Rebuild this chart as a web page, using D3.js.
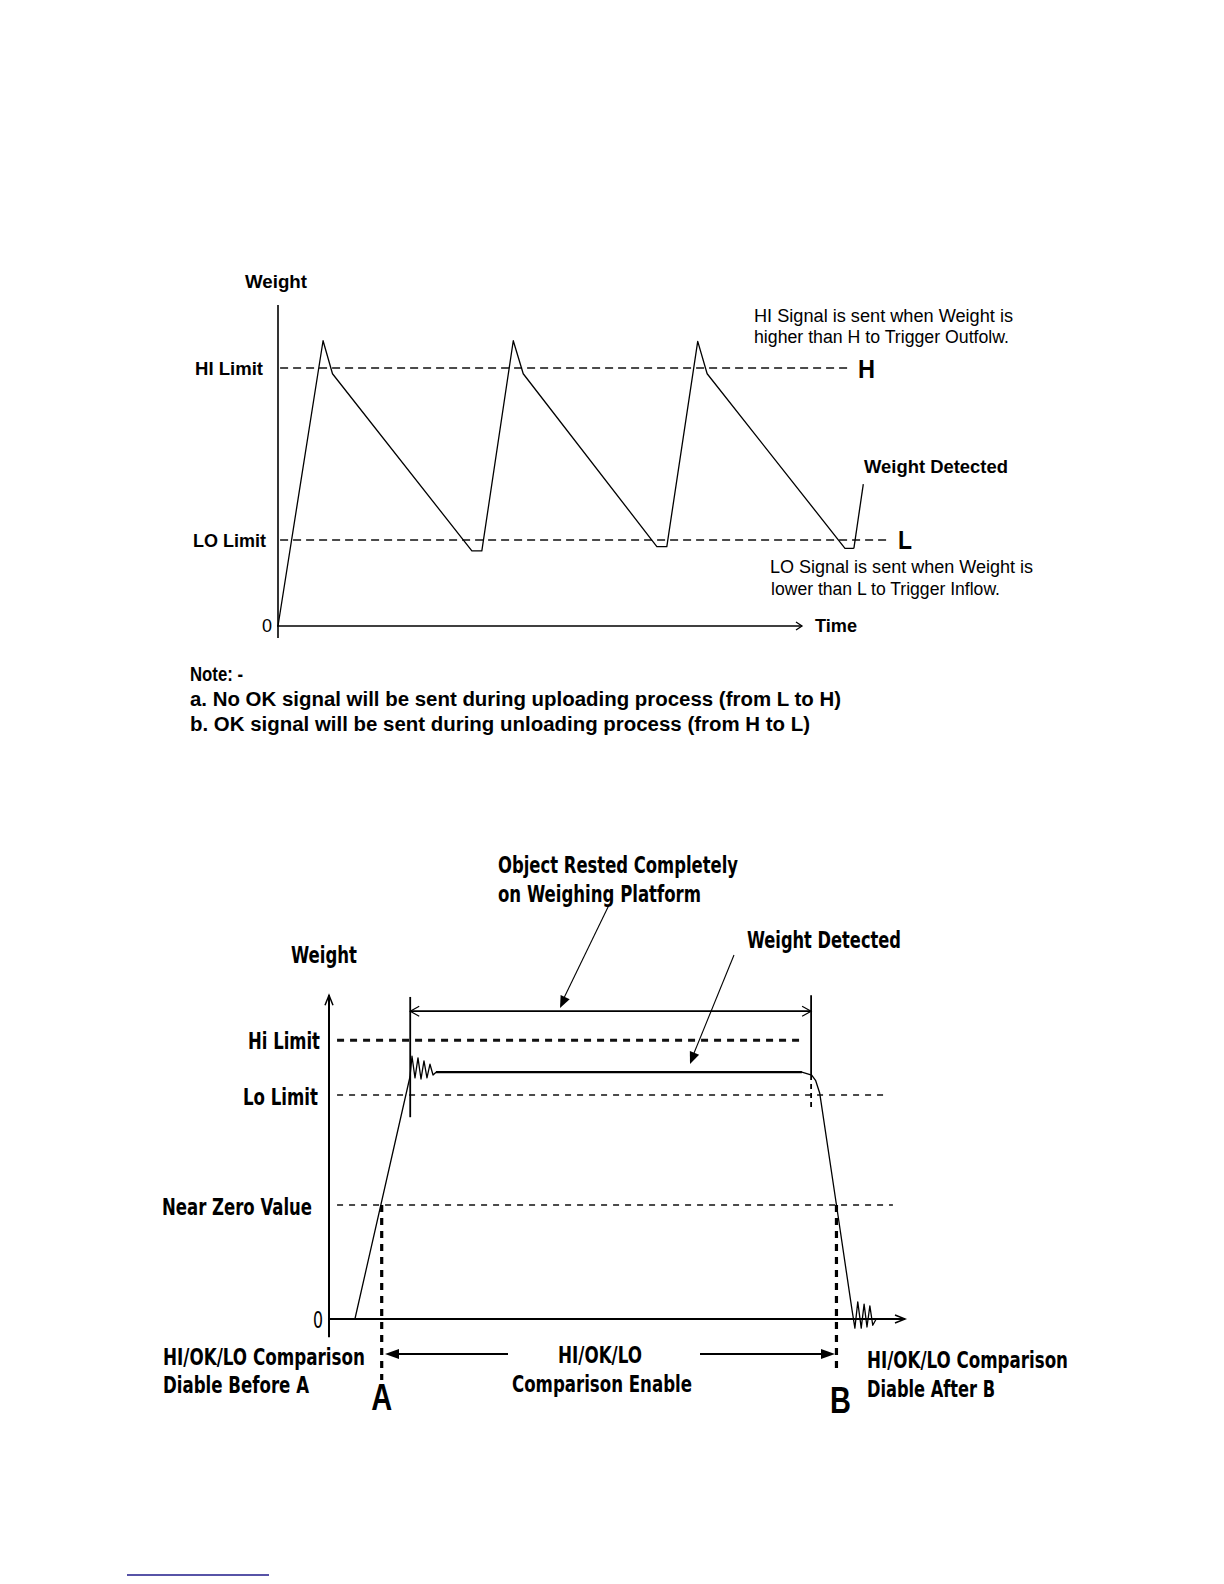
<!DOCTYPE html>
<html><head><meta charset="utf-8">
<script src="https://cdn.jsdelivr.net/npm/d3@7"></script>
<style>body{margin:0;background:#fff} svg{display:block}</style>
</head><body>
<svg id="c" width="1224" height="1584"></svg>
<script>
// ---------- DATA: top chart (hopper fill / discharge cycle) ----------
const topLimitNames  = ["HI Limit", "LO Limit"];
const topLimitValues = [90, 30];
const topLimitTags   = ["H", "L"];
const topTime   = [0, 8.6, 10.4, 37.0, 38.9, 44.9, 46.8, 72.3, 74.2, 80.1, 81.9, 108.2, 109.9];
const topWeight = [0, 99.5, 88, 26.2, 26.2, 99.5, 88, 27.7, 27.7, 99.3, 88, 27.1, 27.1];
const topDetectLeader = [[109.9, 27.1], [111.7, 49.5]];
const topAxisLabels = ["Weight", "Time", "0"];
const topNotes = ["HI Signal is sent when Weight is", "higher than H to Trigger Outfolw.",
                  "LO Signal is sent when Weight is", "lower than L to Trigger Inflow."];
const noteLines = ["Note: -",
  "a. No OK signal will be sent during uploading process (from L to H)",
  "b. OK signal will be sent during unloading process (from H to L)"];

// ---------- DATA: bottom chart (object weighing) ----------
const botLimitNames  = ["Hi Limit", "Lo Limit", "Near Zero Value"];
const botLimitValues = [48.9, 39.3, 20];
const botTime   = [4.5, 14.06, 14.41, 14.93, 15.45, 15.97, 16.49, 17.01, 17.53, 18.06, 18.58,
                   82.1, 83.8, 84.5, 85.2, 88.1, 90.8, 91.3, 91.8, 92.4, 92.9, 93.4, 93.9, 94.4, 95.0];
const botWeight = [0, 42.5, 46.1, 42.3, 45.8, 42.1, 45.3, 42.3, 44.7, 42.8, 43.3,
                   43.3, 42.8, 41.8, 39.6, 20, 1.6, -1.6, 3.0, -1.6, 2.6, -1.4, 2.3, -1.1, 0];
const markerNames = ["A", "B"];
const markerTimes = [9.15, 88.1];
const bracketTimes = [14.1, 83.7];
const bracketWeight = 54;
const botTexts = ["Object Rested Completely", "on Weighing Platform", "Weight Detected", "Weight", "0",
  "HI/OK/LO Comparison", "Diable Before A", "HI/OK/LO", "Comparison Enable",
  "HI/OK/LO Comparison", "Diable After B"];

// ---------- helpers ----------
const svg = d3.select("#c");
const SANS = "'Liberation Sans', Arial, Helvetica, sans-serif";
const NARROW = "'Liberation Sans Narrow', 'Arial Narrow', 'DejaVu Sans Condensed', 'Liberation Sans', sans-serif";
function txt(g, s, x, y, o) {
  const t = g.append("text").attr("x", x).attr("y", y).text(s)
    .attr("font-family", o.family || SANS).attr("font-size", o.size)
    .attr("font-weight", o.weight || "normal").attr("text-anchor", o.anchor || "start")
    .attr("fill", "#000");
  if (o.width) t.attr("textLength", o.width).attr("lengthAdjust", "spacingAndGlyphs");
  return t;
}
function line(g, x1, y1, x2, y2, w, dash, col) {
  const l = g.append("line").attr("x1", x1).attr("y1", y1).attr("x2", x2).attr("y2", y2)
    .attr("stroke", col || "#000").attr("stroke-width", w);
  if (dash) l.attr("stroke-dasharray", dash);
  return l;
}
function head(g, x1, y1, x2, y2, len, half, filled, w) {
  const a = Math.atan2(y2 - y1, x2 - x1);
  const bx = x2 - len * Math.cos(a), by = y2 - len * Math.sin(a);
  const px = -Math.sin(a) * half, py = Math.cos(a) * half;
  if (filled) {
    g.append("path").attr("d", `M${x2},${y2}L${bx + px},${by + py}L${bx - px},${by - py}Z`).attr("fill", "#000");
  } else {
    g.append("path").attr("d", `M${bx + px},${by + py}L${x2},${y2}L${bx - px},${by - py}`)
      .attr("fill", "none").attr("stroke", "#000").attr("stroke-width", w || 1.3);
  }
}

// ================= TOP CHART =================
const gT = svg.append("g");
const xT = d3.scaleLinear().domain([0, 100]).range([278, 802]);
const yT = d3.scaleLinear().domain([0, 90]).range([626, 368]);

// limit lines
const limEnd = [109.2, 116.2];
topLimitValues.forEach((v, i) => {
  line(gT, xT(0.4), yT(v), xT(limEnd[i]), yT(v), 1.3, "8,5", "#111");
});
// axes
line(gT, xT(0), yT(112), xT(0), yT(-4.2), 1.6);
line(gT, xT(0) - 1, yT(0), xT(100), yT(0), 1.6);
head(gT, xT(0), yT(0), xT(100), yT(0), 6, 4, false, 1.3);
// waveform
const lnT = d3.line().x(d => xT(d[0])).y(d => yT(d[1]));
gT.append("path").attr("d", lnT(topTime.map((t, i) => [t, topWeight[i]])))
  .attr("fill", "none").attr("stroke", "#000").attr("stroke-width", 1.3).attr("stroke-linejoin", "round");
gT.append("path").attr("d", lnT(topDetectLeader)).attr("fill", "none").attr("stroke", "#000").attr("stroke-width", 1.3);

// labels
txt(gT, topAxisLabels[0], 245, 288, {size: 18, weight: "bold", width: 62});
txt(gT, topAxisLabels[1], 815, 632, {size: 18, weight: "bold", width: 42});
txt(gT, topAxisLabels[2], 272, 632, {size: 18, anchor: "end"});
txt(gT, topLimitNames[0], 195, yT(topLimitValues[0]) + 6.5, {size: 18, weight: "bold", width: 68});
txt(gT, topLimitNames[1], 193, yT(topLimitValues[1]) + 7, {size: 18, weight: "bold", width: 73});
txt(gT, topLimitTags[0], 858, 378, {size: 25, weight: "bold", width: 17});
txt(gT, topLimitTags[1], 898, 549, {size: 25, weight: "bold", width: 14});
txt(gT, "Weight Detected", 864, 473, {size: 18, weight: "bold", width: 144});
txt(gT, topNotes[0], 754, 322, {size: 18, width: 259});
txt(gT, topNotes[1], 754, 343, {size: 18, width: 255});
txt(gT, topNotes[2], 770, 573, {size: 18, width: 263});
txt(gT, topNotes[3], 771, 595, {size: 18, width: 229});

txt(gT, noteLines[0], 190, 681, {size: 19.5, weight: "bold", width: 53});
txt(gT, noteLines[1], 190, 706, {size: 19.5, weight: "bold", width: 651});
txt(gT, noteLines[2], 190, 731, {size: 19.5, weight: "bold", width: 620});

// ================= BOTTOM CHART =================
const gB = svg.append("g");
const xB = d3.scaleLinear().domain([0, 100]).range([329, 905]);
const yB = d3.scaleLinear().domain([0, 20]).range([1319, 1205]);

// limit lines
const botLimStart = [1.4, 1.4, 1.4], botLimEnd = [82.3, 96.2, 97.9];
const botLimStyle = [{w: 3.2, d: "7,6"}, {w: 1.6, d: "6,6"}, {w: 1.6, d: "6,6"}];
botLimitValues.forEach((v, i) => {
  line(gB, xB(botLimStart[i]), yB(v), xB(botLimEnd[i]), yB(v), botLimStyle[i].w, botLimStyle[i].d, "#111");
});
// axes
line(gB, xB(0), yB(-3.2), xB(0), yB(56.8), 2);
head(gB, xB(0), yB(0), xB(0), yB(56.8), 10, 4, false, 1.5);
line(gB, xB(0), yB(0), xB(100), yB(0), 2);
head(gB, xB(0), yB(0), xB(100), yB(0), 10, 4, false, 1.5);

// marker dashed verticals A, B
const markerBottom = [-10.7, -8.9];
markerTimes.forEach((t, i) => {
  line(gB, xB(t), yB(20), xB(t), yB(markerBottom[i]), 3.2, "7,6");
});

// trace
const lnB = d3.line().x(d => xB(d[0])).y(d => yB(d[1]));
const botPts = botTime.map((t, i) => [t, botWeight[i]]);
gB.append("path").attr("d", lnB(botPts)).attr("fill", "none").attr("stroke", "#000")
  .attr("stroke-width", 1.3).attr("stroke-linejoin", "round");
gB.append("path").attr("d", lnB(botPts.slice(10, 12))).attr("fill", "none").attr("stroke", "#000").attr("stroke-width", 2.2);

// bracket "object rested completely"
line(gB, xB(bracketTimes[0]), yB(56.5), xB(bracketTimes[0]), yB(35.4), 1.8);
line(gB, xB(bracketTimes[1]), yB(56.8), xB(bracketTimes[1]), yB(42.8), 1.8);
line(gB, xB(bracketTimes[1]), yB(42.8), xB(bracketTimes[1]), yB(37.2), 1.8, "5,4");
line(gB, xB(bracketTimes[0]), yB(bracketWeight), xB(bracketTimes[1]), yB(bracketWeight), 1.8);
head(gB, xB(bracketTimes[1]), yB(bracketWeight), xB(bracketTimes[0]), yB(bracketWeight), 9, 5, false, 1.2);
head(gB, xB(bracketTimes[0]), yB(bracketWeight), xB(bracketTimes[1]), yB(bracketWeight), 9, 5, false, 1.2);

// pointer arrows
line(gB, 609, 905, 562, 1002, 1.1);
head(gB, 609, 905, 560, 1008, 12, 5, true);
line(gB, 734, 955, 692, 1058, 1.1);
head(gB, 734, 955, 690, 1064, 12, 5, true);

// comparison enable arrows
line(gB, 508, 1354, 392, 1354, 2);
head(gB, 508, 1354, 385, 1354, 14, 5, true);
line(gB, 700, 1354, 828, 1354, 2);
head(gB, 700, 1354, 835, 1354, 14, 5, true);

// labels
const nb = {family: NARROW, weight: "bold", size: 23};
txt(gB, botTexts[0], 498, 873, {...nb, width: 240});
txt(gB, botTexts[1], 498, 902, {...nb, width: 203});
txt(gB, botTexts[2], 747, 948, {...nb, width: 154});
txt(gB, botTexts[3], 291, 963, {...nb, width: 66});
txt(gB, botLimitNames[0], 248, yB(botLimitValues[0]) + 9, {...nb, width: 72});
txt(gB, botLimitNames[1], 243, yB(botLimitValues[1]) + 10, {...nb, width: 75});
txt(gB, botLimitNames[2], 162, yB(botLimitValues[2]) + 10, {...nb, width: 150});
txt(gB, botTexts[4], 323, 1328, {family: NARROW, size: 23, anchor: "end", width: 10});
txt(gB, botTexts[5], 163, 1365, {...nb, width: 202});
txt(gB, botTexts[6], 163, 1393, {...nb, width: 146});
txt(gB, botTexts[7], 600, 1363, {...nb, anchor: "middle", width: 84});
txt(gB, botTexts[8], 602, 1392, {...nb, anchor: "middle", width: 180});
txt(gB, botTexts[9], 867, 1368, {...nb, width: 201});
txt(gB, botTexts[10], 867, 1397, {...nb, width: 128});

// big A / B marker letters (slightly tall, like the original)
const markerX = [xB(markerTimes[0]), xB(markerTimes[1]) + 4];
const markerBase = [1410, 1413];
markerNames.forEach((m, i) => {
  gB.append("text").text(m)
    .attr("transform", `translate(${markerX[i]},${markerBase[i]}) scale(1,1.25)`)
    .attr("font-family", SANS).attr("font-weight", "bold").attr("font-size", 29)
    .attr("text-anchor", "middle").attr("fill", "#000");
});

// footnote separator
line(svg, 127, 1575, 269, 1575, 1.5, null, "#1f1a8a");
</script>
</body></html>
